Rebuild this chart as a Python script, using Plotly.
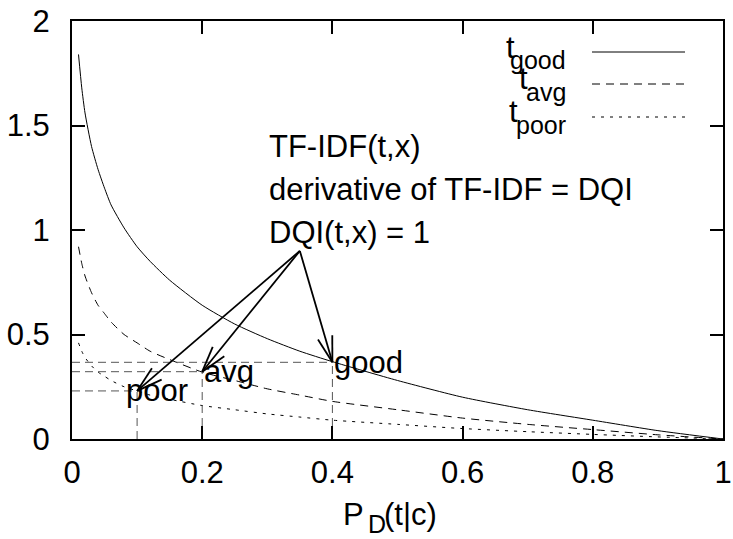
import math
import plotly.graph_objects as go

# ---- data ----
x_vals = [0.01, 0.015, 0.02, 0.03, 0.04, 0.05, 0.06, 0.08, 0.1, 0.12, 0.15,
          0.2, 0.25, 0.3, 0.35, 0.4, 0.5, 0.6, 0.7, 0.8, 0.9, 1.0]
good_vals = [1.84, 1.68, 1.56, 1.40, 1.29, 1.20, 1.12, 1.01, 0.92, 0.85, 0.76,
             0.64, 0.55, 0.48, 0.42, 0.37, 0.28, 0.20, 0.14, 0.09, 0.04, 0.0]
avg_vals = [0.92, 0.84, 0.78, 0.70, 0.64, 0.60, 0.56, 0.50, 0.46, 0.42, 0.38,
            0.32, 0.28, 0.24, 0.21, 0.18, 0.14, 0.10, 0.07, 0.045, 0.02, 0.0]
poor_vals = [0.46, 0.42, 0.39, 0.35, 0.32, 0.30, 0.28, 0.25, 0.23, 0.21, 0.19,
             0.16, 0.14, 0.12, 0.105, 0.09, 0.07, 0.05, 0.035, 0.022, 0.01, 0.0]

point_names = ["good", "avg", "poor"]
point_x = [0.4, 0.2, 0.1]
point_y = [0.367, 0.322, 0.230]
label_x = [0.4, 0.2, 0.08]

arrow_origin = (0.35, 0.9)
note_lines = ["TF-IDF(t,x)", "derivative of TF-IDF = DQI", "DQI(t,x) = 1"]
note_y = [1.40, 1.195, 0.99]

x_ticks = [0, 0.2, 0.4, 0.6, 0.8, 1]
y_ticks = [0, 0.5, 1, 1.5, 2]

FONT = "Liberation Sans, Arial, sans-serif"
FS = 31
FS_SUB = 25

# plot area geometry (pixels)
W, H = 733, 539
ML, MR, MT, MB = 72, 10, 21, 100
PW, PH = W - ML - MR, H - MT - MB
XS = PW / 1.0
YS = PH / 2.0


def px2paper_x(p):
    return (p - ML) / PW


def px2paper_y(p):
    return (H - MB - p) / PH


fig = go.Figure()

series = [("good", good_vals, "solid"), ("avg", avg_vals, "8px,6px"),
          ("poor", poor_vals, "3px,6px")]
for name, vals, dash in series:
    fig.add_trace(go.Scatter(x=x_vals, y=vals, mode="lines", name=name,
                             line=dict(color="black", width=1, dash=dash, shape="spline", smoothing=0.6),
                             showlegend=False, hoverinfo="skip"))

# reference dashed lines
gx, gy = [], []
for px, py in zip(point_x, point_y):
    gx += [0, px, None, px, px, None]
    gy += [py, py, None, 0, py, None]
fig.add_trace(go.Scatter(x=gx, y=gy, mode="lines", line=dict(color="#555555", width=1, dash="8px,5px"),
                         showlegend=False, hoverinfo="skip"))

# arrows with open heads
ax_, ay_ = [], []
HEAD = 27
ANG = math.radians(16)
sx, sy = arrow_origin
for px, py in zip(point_x, point_y):
    ax_ += [sx, px, None]
    ay_ += [sy, py, None]
    dx, dy = (px - sx) * XS, (py - sy) * YS
    L = math.hypot(dx, dy)
    bx, by = -dx / L, -dy / L
    for s in (1, -1):
        c, sn = math.cos(s * ANG), math.sin(s * ANG)
        wx = (bx * c - by * sn) * HEAD
        wy = (bx * sn + by * c) * HEAD
        ax_ += [px + wx / XS, px, None]
        ay_ += [py + wy / YS, py, None]
fig.add_trace(go.Scatter(x=ax_, y=ay_, mode="lines", line=dict(color="black", width=1.8),
                         showlegend=False, hoverinfo="skip"))

annotations = []
for name, lx, py in zip(point_names, label_x, point_y):
    annotations.append(dict(x=lx, y=py, xref="x", yref="y", text=name, showarrow=False,
                            xanchor="left", yanchor="middle", font=dict(size=FS, color="black", family=FONT)))
for txt, ny in zip(note_lines, note_y):
    annotations.append(dict(x=0.3, y=ny, xref="x", yref="y", text=txt, showarrow=False,
                            xanchor="left", yanchor="middle", font=dict(size=FS, color="black", family=FONT)))

# legend (gnuplot style: text then sample)
leg_y = [52, 84, 117]
leg_sub_left = [515, 528, 518]
leg_dash = ["solid", "8px,6px", "3px,6px"]
shapes = []
for (name, _, _), ly, sl, dsh in zip(series, leg_y, leg_sub_left, leg_dash):
    shapes.append(dict(type="line", xref="paper", yref="paper",
                       x0=px2paper_x(592), x1=px2paper_x(685), y0=px2paper_y(ly), y1=px2paper_y(ly),
                       line=dict(color="black", width=1, dash=dsh)))
    annotations.append(dict(x=px2paper_x(568), y=px2paper_y(ly + 8), xref="paper", yref="paper",
                            text=name, showarrow=False, xanchor="right", yanchor="middle",
                            font=dict(size=FS_SUB, color="black", family=FONT)))
    annotations.append(dict(x=px2paper_x(sl + 2), y=px2paper_y(ly - 5), xref="paper", yref="paper",
                            text="t", showarrow=False, xanchor="right", yanchor="middle",
                            font=dict(size=FS, color="black", family=FONT)))

# x-axis title
annotations.append(dict(x=px2paper_x(366), y=px2paper_y(514), xref="paper", yref="paper",
                        text="P", showarrow=False, xanchor="right", yanchor="middle",
                        font=dict(size=FS, color="black", family=FONT)))
annotations.append(dict(x=px2paper_x(366), y=px2paper_y(524), xref="paper", yref="paper",
                        text="D", showarrow=False, xanchor="left", yanchor="middle",
                        font=dict(size=FS_SUB, color="black", family=FONT)))
annotations.append(dict(x=px2paper_x(382), y=px2paper_y(514), xref="paper", yref="paper",
                        text="(t|c)", showarrow=False, xanchor="left", yanchor="middle",
                        font=dict(size=FS, color="black", family=FONT)))

axis_common = dict(showline=True, linecolor="black", linewidth=2, mirror="ticks",
                   ticks="inside", ticklen=13, tickwidth=1.5, tickcolor="black",
                   showgrid=False, zeroline=False, automargin=False,
                   tickfont=dict(size=FS, color="black", family=FONT))

fig.update_layout(
    width=W, height=H,
    margin=dict(l=ML, r=MR, t=MT, b=MB, autoexpand=False),
    paper_bgcolor="white", plot_bgcolor="white",
    xaxis=dict(range=[0, 1], tickvals=x_ticks, ticktext=[f"{v:g}" for v in x_ticks],
               ticklabelstandoff=5, **axis_common),
    yaxis=dict(range=[0, 2], tickvals=y_ticks, ticktext=[f"{v:g}" for v in y_ticks],
               ticklabelstandoff=14, **axis_common),
    annotations=annotations, shapes=shapes,
    font=dict(family=FONT, color="black"),
)

fig.write_html("out.html", config={"displayModeBar": False},
               post_script="document.body.style.margin='0px';document.body.style.padding='0px';"
                           "document.body.style.overflow='hidden';")
